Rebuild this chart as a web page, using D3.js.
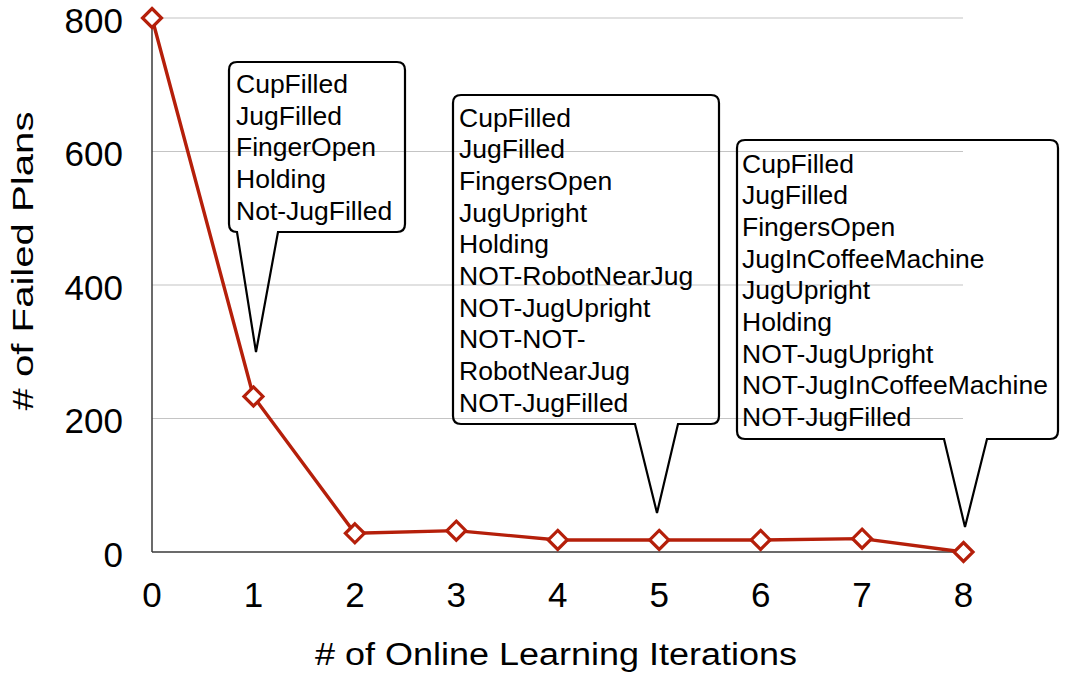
<!DOCTYPE html>
<html><head><meta charset="utf-8">
<script src="https://cdn.jsdelivr.net/npm/d3@7"></script>
<style>body{margin:0;background:#fff}svg{display:block}text{font-family:"Liberation Sans",Arial,Helvetica,sans-serif;fill:#000}</style>
</head><body>
<svg id="c" width="1066" height="680"></svg>
<script>
const iterations = [0,1,2,3,4,5,6,7,8];
const failedPlans = [800,233,28,32,18,18,18,20,0];
const yTicks = [0,200,400,600,800];
const xTitle = "# of Online Learning Iterations";
const yTitle = "# of Failed Plans";
const callout1Lines = ["CupFilled","JugFilled","FingerOpen","Holding","Not-JugFilled"];
const callout2Lines = ["CupFilled","JugFilled","FingersOpen","JugUpright","Holding","NOT-RobotNearJug","NOT-JugUpright","NOT-NOT-","RobotNearJug","NOT-JugFilled"];
const callout3Lines = ["CupFilled","JugFilled","FingersOpen","JugInCoffeeMachine","JugUpright","Holding","NOT-JugUpright","NOT-JugInCoffeeMachine","NOT-JugFilled"];

const svg = d3.select("#c");
const x = d3.scaleLinear().domain([0,8]).range([152,963.5]);
const y = d3.scaleLinear().domain([0,800]).range([552,18]);

// gridlines
svg.append("g").selectAll("line").data(yTicks.filter(d=>d>0)).join("line")
  .attr("x1",152).attr("x2",963).attr("y1",d=>y(d)).attr("y2",d=>y(d))
  .attr("stroke","#c4c4c4").attr("stroke-width",1.2);

// axes lines
svg.append("line").attr("x1",152).attr("x2",152).attr("y1",y(800)).attr("y2",y(0)).attr("stroke","#3a3a3a").attr("stroke-width",1.5);
svg.append("line").attr("x1",152).attr("x2",963).attr("y1",y(0)).attr("y2",y(0)).attr("stroke","#3a3a3a").attr("stroke-width",1.5);

// tick labels
svg.append("g").selectAll("text").data(yTicks).join("text")
  .attr("x",123).attr("y",d=>y(d)+2).attr("text-anchor","end").attr("dominant-baseline","central")
  .style("font-size","35px").text(d=>d);
svg.append("g").selectAll("text").data(iterations).join("text")
  .attr("x",d=>x(d)).attr("y",607).attr("text-anchor","middle")
  .style("font-size","35px").text(d=>d);

// titles
svg.append("text").attr("x",556).attr("y",665).attr("text-anchor","middle")
  .attr("textLength",482).attr("lengthAdjust","spacingAndGlyphs")
  .style("font-size","31px").text(xTitle);
svg.append("text").attr("transform","translate(33,261) rotate(-90)").attr("text-anchor","middle")
  .attr("textLength",299).attr("lengthAdjust","spacingAndGlyphs")
  .style("font-size","29px").text(yTitle);

// callouts
function callout(box, tail, lines, tx, ty0){
  const [l,t,r,b] = box, rr = 8;
  const [tl, tr2, tipx, tipy] = tail;
  const p = d3.path();
  p.moveTo(l+rr,t); p.lineTo(r-rr,t); p.quadraticCurveTo(r,t,r,t+rr);
  p.lineTo(r,b-rr); p.quadraticCurveTo(r,b,r-rr,b);
  p.lineTo(tr2,b); p.lineTo(tipx,tipy); p.lineTo(tl,b);
  p.lineTo(l+rr,b); p.quadraticCurveTo(l,b,l,b-rr);
  p.lineTo(l,t+rr); p.quadraticCurveTo(l,t,l+rr,t); p.closePath();
  svg.append("path").attr("d",p.toString()).attr("fill","none").attr("stroke","#000").attr("stroke-width",2.2).attr("stroke-linejoin","miter");
  svg.append("g").selectAll("text").data(lines).join("text")
    .attr("x",tx).attr("y",(d,i)=>ty0+i*31.67).style("font-size","26.5px").text(d=>d);
}
callout([229,62,405,232],[237,278,256,352],callout1Lines,236,93);
callout([453,95,719,424],[635,678,657,513],callout2Lines,459,126.7);
callout([737,140,1058,439],[944,987,965,527],callout3Lines,742,172.7);

// series line
const line = d3.line().x((d,i)=>x(iterations[i])).y(d=>y(d));
svg.append("path").datum(failedPlans).attr("d",line).attr("fill","none")
  .attr("stroke","#b51f0a").attr("stroke-width",3.4);
const s = 9.5;
svg.append("g").selectAll("path").data(failedPlans).join("path")
  .attr("d",(d,i)=>{const cx=x(iterations[i]),cy=y(d);return `M${cx},${cy-s}L${cx+s},${cy}L${cx},${cy+s}L${cx-s},${cy}Z`;})
  .attr("fill","#fff").attr("stroke","#b51f0a").attr("stroke-width",3.2);
</script>
</body></html>
